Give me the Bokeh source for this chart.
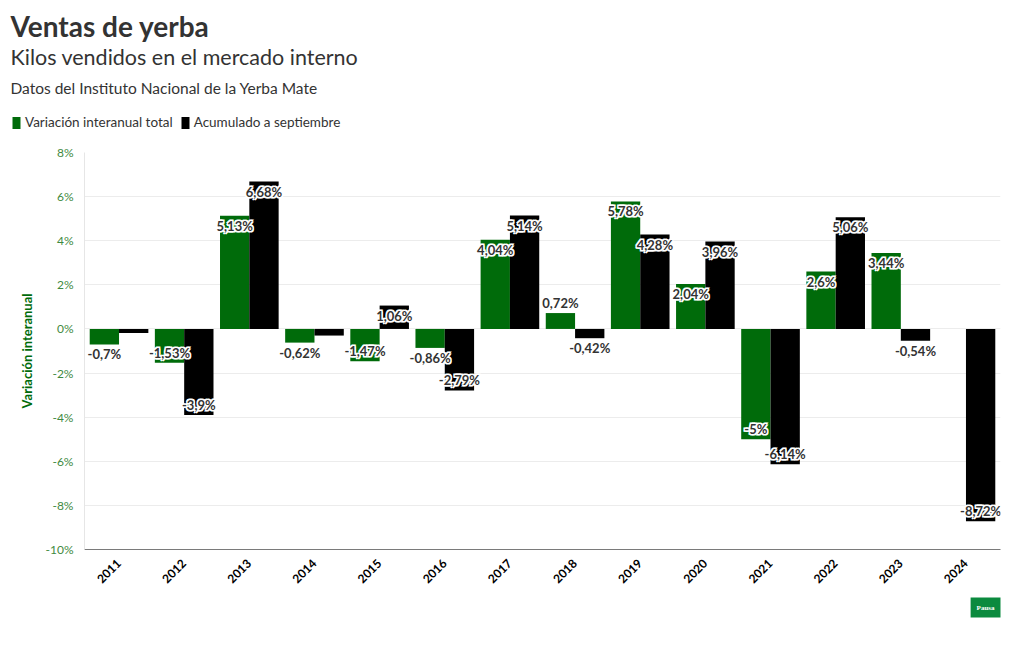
import math
from bokeh.plotting import figure
from bokeh.layouts import column
from bokeh.models import ColumnDataSource, FactorRange, Range1d, Title, Legend, LegendItem, FixedTicker
from bokeh.transform import dodge
from bokeh.core.properties import value
from bokeh.embed import file_html
from bokeh.resources import INLINE

years = [str(y) for y in range(2011, 2025)]
total = [-0.7, -1.53, 5.13, -0.62, -1.47, -0.86, 4.04, 0.72, 5.78, 2.04, -5.0, 2.6, 3.44, float("nan")]
acum = [-0.18, -3.9, 6.68, -0.3, 1.06, -2.79, 5.14, -0.42, 4.28, 3.96, -6.14, 5.06, -0.54, -8.72]
total_labels = ["-0,7%", "-1,53%", "5,13%", "-0,62%", "-1,47%", "-0,86%", "4,04%", "0,72%",
                "5,78%", "2,04%", "-5%", "2,6%", "3,44%", ""]
acum_labels = ["", "-3,9%", "6,68%", "", "1,06%", "-2,79%", "5,14%", "-0,42%",
               "4,28%", "3,96%", "-6,14%", "5,06%", "-0,54%", "-8,72%"]
y_ticks = [-10, -8, -6, -4, -2, 0, 2, 4, 6, 8]
y_tick_labels = ["-10%", "-8%", "-6%", "-4%", "-2%", "0%", "2%", "4%", "6%", "8%"]
series_names = ["Variación interanual total", "Acumulado a septiembre"]

GREEN = "#006b0a"
FONT = "Lato"
TOP_H = 140


def offsets(vals):
    out = []
    for v in vals:
        if v != v:
            out.append(0)
            continue
        inside = abs(v) > 0.9
        if v >= 0:
            out.append(10 if inside else -10)
        else:
            out.append(-10 if inside else 10)
    return out


toff = offsets(total)
aoff = offsets(acum)
src = ColumnDataSource(dict(year=years, total=total, acum=acum,
                            tl=total_labels, al=acum_labels,
                            toff=toff, aoff=aoff,
                            toff_u=[o - 1 for o in toff], toff_d=[o + 1 for o in toff],
                            aoff_u=[o - 1 for o in aoff], aoff_d=[o + 1 for o in aoff]))

# ---------------- header figure (titles + legend) ----------------
h = figure(width=1004, height=TOP_H, x_range=Range1d(0, 1), y_range=Range1d(0, 1),
           output_backend="svg", toolbar_location=None,
           min_border_left=0, min_border_right=0, min_border_top=0, min_border_bottom=0)
h.frame_align = False
h.title = None
h.axis.visible = False
h.grid.visible = False
h.outline_line_color = None
# swatch-only renderers for the legend (nothing is drawn: top is NaN)
lg1 = h.vbar(x=[0.5], top=[float("nan")], width=0.5, fill_color=GREEN, line_color=None)
lg2 = h.vbar(x=[0.5], top=[float("nan")], width=0.5, fill_color="black", line_color=None)
legend = Legend(items=[LegendItem(label=series_names[0], renderers=[lg1]),
                       LegendItem(label=series_names[1], renderers=[lg2])],
                orientation="horizontal", location=(11, 10),
                label_text_font=FONT, label_text_font_size="13.5px", label_text_color="#333333",
                glyph_width=10, glyph_height=15, label_standoff=4, spacing=7,
                padding=0, margin=0, border_line_color=None, background_fill_alpha=0)
h.add_layout(legend, "center")
h.add_layout(Title(text="Datos del Instituto Nacional de la Yerba Mate", text_font=FONT,
                   text_font_size="15.5px", text_font_style="normal", text_color="#333333",
                   standoff=4, offset=10), "above")
h.add_layout(Title(text="Kilos vendidos en el mercado interno", text_font=FONT,
                   text_font_size="21.5px", text_font_style="normal", text_color="#333333",
                   standoff=10, offset=10), "above")
h.add_layout(Title(text="Ventas de yerba", text_font=FONT,
                   text_font_size="28px", text_font_style="bold", text_color="#333333",
                   standoff=-29, offset=2, padding=8), "above")
h.add_layout(Title(text=" ", text_font=FONT, text_font_size="1px", standoff=10), "above")

# ---------------- main chart ----------------
p = figure(x_range=FactorRange(factors=years, range_padding=0.03, range_padding_units="absolute"),
           y_range=Range1d(-10, 8), width=1004, height=634 - TOP_H,
           output_backend="svg", toolbar_location=None,
           min_border_left=84, min_border_right=4, min_border_top=152 - TOP_H, min_border_bottom=85)
p.frame_align = False
p.title = None
p.outline_line_color = None
p.background_fill_color = "white"

p.vbar(x=dodge("year", -0.225, range=p.x_range), top="total", width=0.45, source=src,
       fill_color=GREEN, line_color=None)
p.vbar(x=dodge("year", 0.225, range=p.x_range), top="acum", width=0.45, source=src,
       fill_color="black", line_color=None)

base = dict(text_align="center", text_baseline="middle", text_font=value(FONT),
            text_font_style="bold", text_font_size="13px", source=src)
for key, lab, off, d in (("total", "tl", "toff", -0.225), ("acum", "al", "aoff", 0.225)):
    xs = dodge("year", d, range=p.x_range)
    # white halo underlay
    p.text(x=xs, y=key, text=lab, y_offset=off, text_color="white",
           text_outline_color="white", **base)
    for dx, suf in ((-1, "_u"), (1, "_u"), (-1, "_d"), (1, "_d")):
        p.text(x=xs, y=key, text=lab, y_offset=off + suf, x_offset=dx, text_color="white",
               text_outline_color="white", **base)
    # dark text on top
    p.text(x=xs, y=key, text=lab, y_offset=off, text_color="#333333", **base)

p.yaxis.ticker = FixedTicker(ticks=y_ticks)
p.yaxis.major_label_overrides = {t: l for t, l in zip(y_ticks, y_tick_labels)}
p.yaxis.major_label_text_color = "#3f8a3f"
p.yaxis.major_label_text_font = FONT
p.yaxis.major_label_text_font_size = "12px"
p.yaxis.axis_line_color = "#e6e6e6"
p.yaxis.major_tick_line_color = None
p.yaxis.minor_tick_line_color = None
p.yaxis.axis_label = "Variación interanual"
p.yaxis.axis_label_text_color = GREEN
p.yaxis.axis_label_text_font = FONT
p.yaxis.axis_label_text_font_style = "bold"
p.yaxis.axis_label_text_font_size = "13px"
p.yaxis.axis_label_standoff = 8

p.xaxis.major_label_orientation = math.pi / 4
p.xaxis.major_label_text_font = FONT
p.xaxis.major_label_text_font_style = "bold"
p.xaxis.major_label_text_font_size = "12px"
p.xaxis.major_label_text_color = "black"
p.xaxis.axis_line_color = "#7a7a7a"
p.xaxis.major_tick_line_color = None
p.xaxis.minor_tick_line_color = None
p.xaxis.major_label_standoff = 6

p.xgrid.grid_line_color = None
p.ygrid.grid_line_color = "#ececec"

p.add_layout(Title(text="Pausa", align="right", text_font="Liberation Serif", text_font_size="7px",
                   text_font_style="bold", text_color="white", background_fill_color="#0b8a3e",
                   padding=6, standoff=12), "below")

open("out.html", "w").write(file_html(column(h, p, spacing=0), INLINE))
